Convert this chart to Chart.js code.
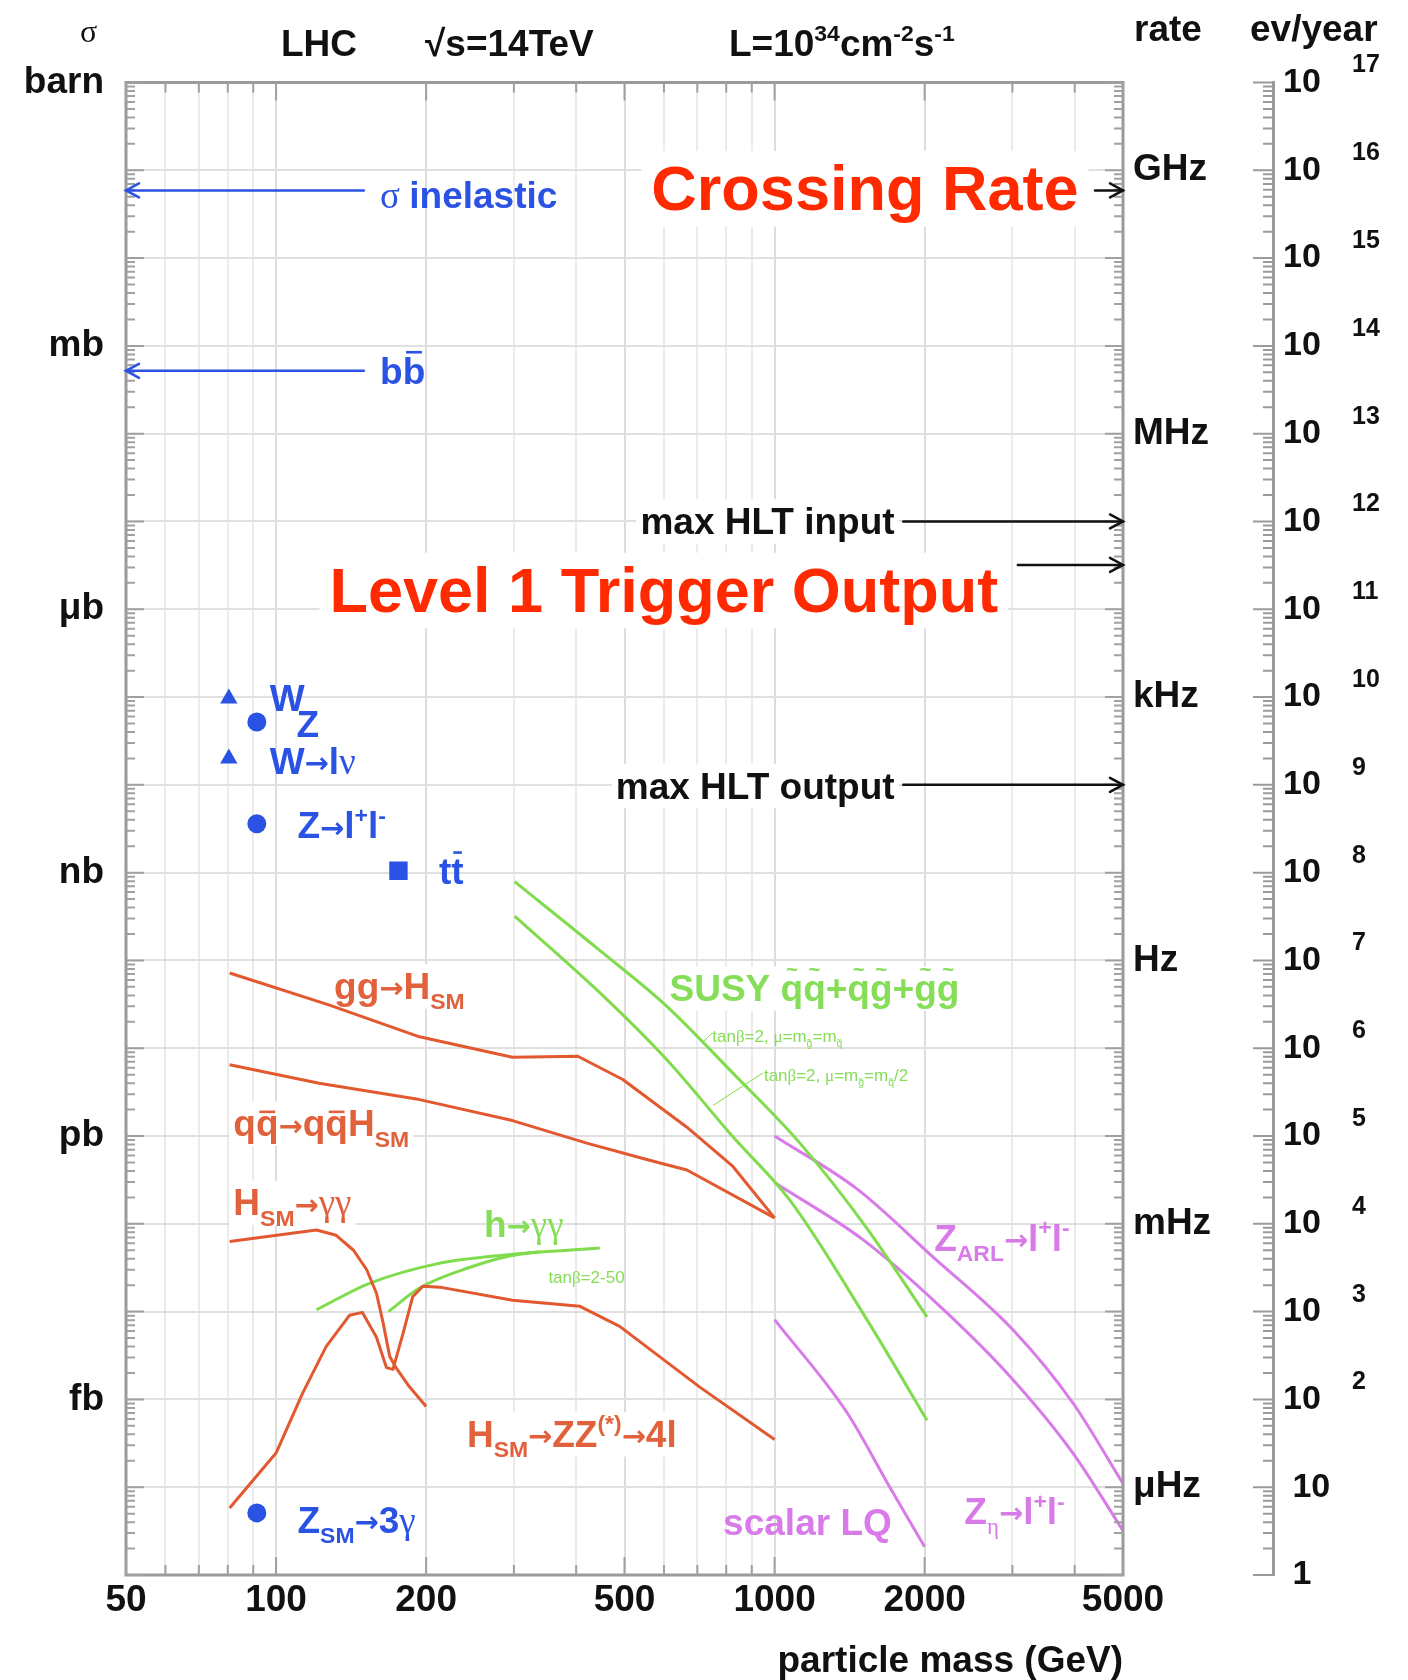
<!DOCTYPE html>
<html><head><meta charset="utf-8">
<script src="https://cdn.jsdelivr.net/npm/chart.js@4/dist/chart.umd.min.js"></script>
<style>html,body{margin:0;padding:0;background:#fff;}#wrap{width:1408px;height:1680px;}</style>
</head><body><div id="wrap"><canvas id="c" width="1408" height="1680"></canvas></div>
<script>
// ---------------- DATA ----------------
const massTicks = [50,60,70,80,90,100,200,300,400,500,600,700,800,900,1000,2000,3000,4000,5000];
const massTickLabels = {50:'50',100:'100',200:'200',500:'500',1000:'1000',2000:'2000',5000:'5000'};
const sigmaUnitLabels = {'0':'barn','-3':'mb','-6':'μb','-9':'nb','-12':'pb','-15':'fb'};
const rateLabels = {'-1':'GHz','-4':'MHz','-7':'kHz','-10':'Hz','-13':'mHz','-16':'μHz'};

// cross sections in barn vs particle mass in GeV
const ggH_mass  = [80.7,128,194,298,403,496,667,825,1000];
const ggH_sigma = [7.2e-11,3.1e-11,1.35e-11,7.9e-12,8.1e-12,4.4e-12,1.26e-12,4.5e-13,1.17e-13];
const qqH_mass  = [80.7,122,194,298,420,554,667,1000];
const qqH_sigma = [6.5e-12,4.0e-12,2.6e-12,1.5e-12,8.3e-13,5.4e-13,4.1e-13,1.17e-13];
const Hgg_mass  = [80.7,120.5,132,143,152,159,164,169,174,185,200];
const Hgg_sigma = [6.3e-14,8.5e-14,7.4e-14,5.0e-14,3.0e-14,1.62e-14,7.4e-15,3.1e-15,2.3e-15,1.4e-15,8.3e-16];
const HZZ_mass  = [80.7,100,113,126,140.5,149,159,166.5,171.6,180,188,197,213,298,407,489,708,1000];
const HZZ_sigma = [5.8e-17,2.45e-16,1.17e-15,4.0e-15,9.1e-15,9.8e-15,5.1e-15,2.3e-15,2.2e-15,5.8e-15,1.48e-14,1.95e-14,1.9e-14,1.35e-14,1.15e-14,6.8e-15,1.38e-15,3.5e-16];
const hgg1_mass  = [120.5,154,210,285,446];
const hgg1_sigma = [1.05e-14,2.1e-14,3.5e-14,4.4e-14,5.3e-14];
const hgg2_mass  = [168,194,245,294,338];
const hgg2_sigma = [1.0e-14,1.86e-14,3.2e-14,4.3e-14,4.8e-14];
const susy1_mass  = [301,446,608,825,1124,1532,2022];
const susy1_sigma = [7.9e-10,1.3e-10,3.0e-11,5.2e-12,8.3e-13,8.9e-14,8.7e-15];
const susy2_mass  = [301,446,608,825,1073,1532,2022];
const susy2_sigma = [3.2e-10,4.3e-11,7.4e-12,9.8e-13,1.86e-13,8.1e-15,5.8e-16];
const zarl_mass  = [1000,1463,2078,3007,3967,5000];
const zarl_sigma = [1.0e-12,2.5e-13,4.2e-14,6.2e-15,9.1e-16,1.1e-16];
const zeta_mass  = [1000,1504,2147,2925,3967,5000];
const zeta_sigma = [2.95e-13,6.6e-14,1.15e-14,2.0e-15,2.45e-16,3.2e-17];
const lq_mass  = [1000,1397,1703,2000];
const lq_sigma = [8.1e-15,7.1e-16,1.0e-16,2.1e-17];

// single points: W, W->lnu (triangles); Z, Z->ll, Z_SM->3gamma (circles); ttbar (square)
const tri_mass  = [80.4,80.4];
const tri_sigma = [9.6e-8,2.0e-8];
const circ_mass  = [91.5,91.5,91.5];
const circ_sigma = [5.2e-8,3.6e-9,5.1e-17];
const sq_mass  = [176];
const sq_sigma = [1.05e-9];

// horizontal reference levels (barn)
const sigmaInelastic = 5.9e-2;
const sigmaBB = 5.2e-4;
const crossingLevel = 5.9e-2;
const maxHLTinput = 1e-5;
const level1Output = 3.2e-6;
const maxHLToutput = 1e-8;

// ---------------- STYLE ----------------
const FONT = '"Liberation Sans", Arial, Helvetica, sans-serif';
const SERIF = '"Liberation Serif", "DejaVu Serif", serif';
const ARROWFONT = '"DejaVu Sans", sans-serif';
const BLUE = '#2a52e3', RED = '#e2582f', REDT = '#e0613b', GREEN = '#80dc4c', GREENT = '#86dd57', MAG = '#d87be9', BIGRED = '#ff2a00', BLACK = '#111111';

function pts(m, s){ return m.map((v,i)=>({x:v, y:s[i]})); }
function isDecade(v){ const l=Math.log10(v); return Math.abs(l-Math.round(l))<1e-6; }
function expOf(v){ return Math.round(Math.log10(v)); }
function logTicks(a,b){ const t=[]; for(let k=a;k<b;k++){ for(let j=1;j<10;j++) t.push(j*Math.pow(10,k)); } t.push(Math.pow(10,b)); return t; }
const sigTicks = logTicks(-17,0);
const evTicks = logTicks(0,17);

const AR = {t:'→', arr:1};
// text annotations anchored in data coordinates (mass, log10 sigma)
const labels = [
  {segs:[{t:'σ ',serif:1},{t:'inelastic'}], m:161.7, e:-1.281, size:37, color:BLUE},
  {segs:[{t:'b'},{t:'b',bar:0.86}], m:161.7, e:-3.283, size:37, color:BLUE},
  {segs:[{t:'Crossing Rate'}], m:566, e:-1.196, size:63, color:BIGRED, bg:1},
  {segs:[{t:'max HLT input'}], m:1741, e:-4.991, size:37, color:BLACK, align:'right', bg:1},
  {segs:[{t:'Level 1 Trigger Output'}], m:128, e:-5.772, size:63, color:BIGRED, bg:1},
  {segs:[{t:'max HLT output'}], m:1741, e:-8.006, size:37, color:BLACK, align:'right', bg:1},
  {segs:[{t:'W'}], m:97.1, e:-7.005, size:37, color:BLUE},
  {segs:[{t:'Z'}], m:109.9, e:-7.298, size:37, color:BLUE},
  {segs:[{t:'W'},AR,{t:'l'},{t:'ν',serif:1}], m:97.1, e:-7.725, size:37, color:BLUE},
  {segs:[{t:'Z'},AR,{t:'l'},{t:'+',sup:1},{t:'l'},{t:'-',sup:1}], m:110.4, e:-8.457, size:37, color:BLUE},
  {segs:[{t:'t'},{t:'t',bar:0.86}], m:212.3, e:-8.982, size:37, color:BLUE},
  {segs:[{t:'Z'},{t:'SM',sub:1},AR,{t:'3'},{t:'γ',serif:1}], m:110.4, e:-16.365, size:37, color:BLUE},
  {segs:[{t:'gg'},AR,{t:'H'},{t:'SM',sub:1}], m:130.7, e:-10.288, size:37, color:REDT, bg:1},
  {segs:[{t:'q'},{t:'q',bar:0.66},AR,{t:'q'},{t:'q',bar:0.66},{t:'H'},{t:'SM',sub:1}], m:82.1, e:-11.851, size:37, color:REDT, bg:1},
  {segs:[{t:'H'},{t:'SM',sub:1},AR,{t:'γγ',serif:1}], m:82.1, e:-12.753, size:37, color:REDT, bg:1},
  {segs:[{t:'H'},{t:'SM',sub:1},AR,{t:'ZZ'},{t:'(*)',sup:1},AR,{t:'4l'}], m:241.5, e:-15.39, size:37, color:REDT, bg:1},
  {segs:[{t:'h'},AR,{t:'γγ',serif:1}], m:261.3, e:-12.997, size:37, color:GREENT},
  {segs:[{t:'tan'},{t:'β',serif:1},{t:'=2-50'}], m:351.8, e:-13.607, size:17, color:GREENT, weight:'normal'},
  {segs:[{t:'SUSY '},{t:'q',acc:'~'},{t:'q',acc:'~'},{t:'+'},{t:'q',acc:'~'},{t:'g',acc:'~'},{t:'+'},{t:'g',acc:'~'},{t:'g',acc:'~'}], m:615.6, e:-10.312, size:37, color:GREENT, bg:1},
  {segs:[{t:'tan'},{t:'β',serif:1},{t:'=2, '},{t:'μ',serif:1},{t:'=m'},{t:'g̃',sub:1},{t:'=m'},{t:'q̃',sub:1}], m:750, e:-10.861, size:17, color:GREENT, weight:'normal'},
  {segs:[{t:'tan'},{t:'β',serif:1},{t:'=2, '},{t:'μ',serif:1},{t:'=m'},{t:'g̃',sub:1},{t:'=m'},{t:'q̃',sub:1},{t:'/2'}], m:952, e:-11.301, size:17, color:GREENT, weight:'normal'},
  {segs:[{t:'Z'},{t:'ARL',sub:1},AR,{t:'l'},{t:'+',sup:1},{t:'l'},{t:'-',sup:1}], m:2090, e:-13.156, size:37, color:MAG},
  {segs:[{t:'Z'},{t:'η',sub:1,serif:1},AR,{t:'l'},{t:'+',sup:1},{t:'l'},{t:'-',sup:1}], m:2403, e:-16.268, size:37, color:MAG},
  {segs:[{t:'scalar LQ'}], m:788.5, e:-16.389, size:37, color:MAG}
];
// arrows in data coordinates: [massFrom, massTo, sigma]
const arrows = [
  {from:150, to:50, s:sigmaInelastic, color:BLUE},
  {from:150, to:50, s:sigmaBB, color:BLUE},
  {from:4393, to:5000, s:crossingLevel, color:BLACK},
  {from:1812, to:5000, s:maxHLTinput, color:BLACK},
  {from:3077, to:5000, s:level1Output, color:BLACK},
  {from:1812, to:5000, s:maxHLToutput, color:BLACK}
];
// small leader lines for the SUSY sub-labels
const leaders = [
  [[750,-10.826],[718,-10.929]],
  [[947.6,-11.282],[753,-11.65]]
];
// header texts (pixel anchored)
const headers = [
  {segs:[{t:'σ',serif:1}], x:80, y:30, size:32, weight:'normal'},
  {segs:[{t:'LHC'}], x:281, y:43, size:37},
  {segs:[{t:'√s=14TeV'}], x:425, y:43, size:37},
  {segs:[{t:'L=10'},{t:'34',sup:1},{t:'cm'},{t:'-2',sup:1},{t:'s'},{t:'-1',sup:1}], x:729, y:43, size:37},
  {segs:[{t:'rate'}], x:1134, y:28, size:37},
  {segs:[{t:'ev/year'}], x:1250, y:28, size:37}
];

// ---------------- RICH TEXT ----------------
function richParts(ctx, segs, o){
  const base=o.size;
  return segs.map(s=>{
    let sz=(s.sub||s.sup)?base*0.62:base;
    let fam=s.serif?SERIF:FONT;
    let wt=s.serif?'normal':(o.weight||'bold');
    if(s.arr){ sz=base*0.78; fam=ARROWFONT; wt='bold'; }
    const font=`${wt} ${sz}px ${fam}`;
    ctx.font=font;
    return {s,font,sz,w:ctx.measureText(s.t).width};
  });
}
function richWidth(ctx,segs,o){ return richParts(ctx,segs,o).reduce((a,p)=>a+p.w,0); }
function drawRich(ctx, segs, x, y, o){
  const parts=richParts(ctx,segs,o);
  const total=parts.reduce((a,p)=>a+p.w,0);
  let cx=o.align==='right'?x-total:x;
  const base=o.size, by0=y+base*0.36;
  ctx.textAlign='left'; ctx.textBaseline='alphabetic';
  ctx.fillStyle=o.color; ctx.strokeStyle=o.color;
  for(const p of parts){
    let by=by0;
    if(p.s.sub) by+=base*0.28;
    if(p.s.sup) by-=base*0.42;
    if(p.s.arr) by-=base*0.02;
    ctx.font=p.font;
    ctx.fillText(p.s.t,cx,by);
    if(p.s.bar){ ctx.lineWidth=Math.max(1.5,base*0.07); ctx.beginPath(); const yy=by-base*p.s.bar; ctx.moveTo(cx+p.w*0.15,yy); ctx.lineTo(cx+p.w*0.85,yy); ctx.stroke(); }
    if(p.s.acc){ ctx.font=`bold ${base*0.55}px ${FONT}`; ctx.textAlign='center'; ctx.fillText(p.s.acc,cx+p.w/2,by-base*0.68); ctx.textAlign='left'; }
    cx+=p.w;
  }
}
function drawArrow(ctx,x1,y1,x2,y2,color){
  ctx.save(); ctx.strokeStyle=color; ctx.lineWidth=2.5; ctx.lineCap='round';
  ctx.beginPath(); ctx.moveTo(x1,y1); ctx.lineTo(x2,y2); ctx.stroke();
  const dir=Math.sign(x2-x1)||1;
  ctx.beginPath(); ctx.moveTo(x2-dir*13,y2-7); ctx.lineTo(x2,y2); ctx.lineTo(x2-dir*13,y2+7); ctx.stroke();
  ctx.restore();
}

const decor = {
  id:'decor',
  beforeDatasetsDraw(chart){
    const ctx=chart.ctx, xs=chart.scales.x, ys=chart.scales.y;
    ctx.save(); ctx.fillStyle='#ffffff';
    for(const l of labels){ if(!l.bg) continue;
      const w=richWidth(ctx,l.segs,l);
      const px=xs.getPixelForValue(l.m), py=ys.getPixelForValue(Math.pow(10,l.e));
      const left=l.align==='right'?px-w:px;
      const pad=l.size>50?10:4;
      ctx.fillRect(left-pad,py-l.size*0.58,w+2*pad,l.size*1.2);
    }
    ctx.restore();
  },
  afterDatasetsDraw(chart){
    const ctx=chart.ctx, xs=chart.scales.x, ys=chart.scales.y, a=chart.chartArea;
    ctx.save();
    ctx.strokeStyle='#9a9a9a'; ctx.lineWidth=3;
    ctx.strokeRect(a.left,a.top,a.right-a.left,a.bottom-a.top);
    ctx.lineWidth=2; ctx.strokeStyle='#a0a0a0';
    ctx.beginPath();
    for(const v of sigTicks){ const py=ys.getPixelForValue(v); const len=isDecade(v)?18:9;
      ctx.moveTo(a.left,py); ctx.lineTo(a.left+len,py); ctx.moveTo(a.right,py); ctx.lineTo(a.right-len,py); }
    for(const v of massTicks){ const px=xs.getPixelForValue(v); const len=massTickLabels[v]?18:10;
      ctx.moveTo(px,a.bottom); ctx.lineTo(px,a.bottom-len); ctx.moveTo(px,a.top); ctx.lineTo(px,a.top+len); }
    ctx.stroke();
    const ev=chart.scales.ev;
    ctx.strokeStyle='#9a9a9a'; ctx.beginPath();
    for(const v of evTicks){ const py=ev.getPixelForValue(v); const len=isDecade(v)?20:10;
      ctx.moveTo(ev.left-len,py); ctx.lineTo(ev.left,py); }
    ctx.stroke();
    ctx.strokeStyle=GREEN; ctx.lineWidth=1;
    for(const [p,q] of leaders){ ctx.beginPath();
      ctx.moveTo(xs.getPixelForValue(p[0]),ys.getPixelForValue(Math.pow(10,p[1])));
      ctx.lineTo(xs.getPixelForValue(q[0]),ys.getPixelForValue(Math.pow(10,q[1]))); ctx.stroke(); }
    for(const r of arrows){ const py=ys.getPixelForValue(r.s);
      drawArrow(ctx,xs.getPixelForValue(r.from),py,xs.getPixelForValue(r.to),py,r.color); }
    for(const l of labels){
      drawRich(ctx,l.segs,xs.getPixelForValue(l.m),ys.getPixelForValue(Math.pow(10,l.e)),l);
    }
    for(const h of headers){ drawRich(ctx,h.segs,h.x,h.y,{size:h.size,color:BLACK,weight:h.weight}); }
    ctx.restore();
  }
};

const curves = [
  [ggH_mass,ggH_sigma,RED,0],[qqH_mass,qqH_sigma,RED,0],[Hgg_mass,Hgg_sigma,RED,0],[HZZ_mass,HZZ_sigma,RED,0],
  [hgg1_mass,hgg1_sigma,GREEN,1],[hgg2_mass,hgg2_sigma,GREEN,1],[susy1_mass,susy1_sigma,GREEN,1],[susy2_mass,susy2_sigma,GREEN,1],
  [zarl_mass,zarl_sigma,MAG,1],[zeta_mass,zeta_sigma,MAG,1],[lq_mass,lq_sigma,MAG,1]
];
const datasets = curves.map(([m,s,c,smooth])=>{
  const d={data:pts(m,s),borderColor:c,borderWidth:3,pointRadius:0,fill:false,borderJoinStyle:'round',tension:0};
  if(smooth) d.cubicInterpolationMode='monotone';
  return d;
});
datasets.push({data:pts(tri_mass,tri_sigma),showLine:false,pointStyle:'triangle',pointRadius:10,backgroundColor:BLUE,borderColor:BLUE,borderWidth:0});
datasets.push({data:pts(circ_mass,circ_sigma),showLine:false,pointStyle:'circle',pointRadius:9.5,backgroundColor:BLUE,borderColor:BLUE,borderWidth:0});
datasets.push({data:pts(sq_mass,sq_sigma),showLine:false,pointStyle:'rect',pointRadius:13,backgroundColor:BLUE,borderColor:BLUE,borderWidth:0});

const tickFont = {family:FONT, weight:'bold', size:37, lineHeight:1.2};
const hidden = 'rgba(0,0,0,0)';

new Chart(document.getElementById('c'), {
  type:'line',
  data:{datasets},
  options:{
    responsive:false, animation:false, devicePixelRatio:1,
    layout:{padding:{top:82.5,left:0,right:0,bottom:0}},
    plugins:{legend:{display:false}, tooltip:{enabled:false}},
    scales:{
      x:{type:'logarithmic', position:'bottom', min:50, max:5000,
        afterBuildTicks:s=>{ s.ticks=massTicks.map(v=>({value:v})); },
        afterFit:s=>{ s.height=105; },
        ticks:{autoSkip:false, maxRotation:0, minRotation:0, padding:4, color:BLACK, font:tickFont, callback:v=>massTickLabels[v]||''},
        grid:{drawTicks:false, lineWidth:2, color:c=>(c.tick&&massTickLabels[c.tick.value])?'#dddddd':'#ebebeb'},
        border:{display:false},
        title:{display:true, text:'particle mass (GeV)', align:'end', color:BLACK, font:{family:FONT,weight:'bold',size:37,lineHeight:1}, padding:{top:0,bottom:0}}
      },
      y:{type:'logarithmic', position:'left', min:1e-17, max:1,
        afterBuildTicks:s=>{ s.ticks=sigTicks.map(v=>({value:v})); },
        afterFit:s=>{ s.width=126; },
        ticks:{autoSkip:false, padding:22, color:BLACK, font:tickFont, callback:v=>isDecade(v)?(sigmaUnitLabels[String(expOf(v))]||''):''},
        grid:{drawTicks:false, lineWidth:2, color:c=>(c.tick&&isDecade(c.tick.value))?'#e0e0e0':hidden},
        border:{display:false}
      },
      rate:{type:'logarithmic', position:'right', weight:1, min:1e-17, max:1,
        afterBuildTicks:s=>{ s.ticks=sigTicks.map(v=>({value:v})); },
        afterFit:s=>{ s.width=150; },
        ticks:{autoSkip:false, padding:10, color:BLACK, font:tickFont, callback:v=>isDecade(v)?(rateLabels[String(expOf(v))]||''):''},
        grid:{display:false, drawTicks:false, drawOnChartArea:false},
        border:{display:false}
      },
      ev:{type:'logarithmic', position:'right', weight:2, min:1, max:1e17,
        afterBuildTicks:s=>{ s.ticks=evTicks.map(v=>({value:v})); },
        afterFit:s=>{ s.width=75; },
        ticks:{autoSkip:false, padding:10, color:BLACK, font:{family:FONT,weight:'bold',size:34}, callback:v=>{ if(!isDecade(v)) return ''; const k=expOf(v); return k===0?' 1':(k===1?' 10':'10'); }},
        grid:{display:false, drawTicks:false, drawOnChartArea:false},
        border:{display:true, color:'#9a9a9a', width:3}
      },
      evexp:{type:'logarithmic', position:'right', weight:3, min:1, max:1e17,
        afterBuildTicks:s=>{ s.ticks=evTicks.map(v=>({value:v})); },
        afterFit:s=>{ s.width=60; },
        ticks:{autoSkip:false, padding:4, labelOffset:-17, color:BLACK, font:{family:FONT,weight:'bold',size:25}, callback:v=>{ if(!isDecade(v)) return ''; const k=expOf(v); return k>=2?String(k):''; }},
        grid:{display:false, drawTicks:false, drawOnChartArea:false},
        border:{display:false}
      }
    }
  },
  plugins:[decor]
});
</script></body></html>
